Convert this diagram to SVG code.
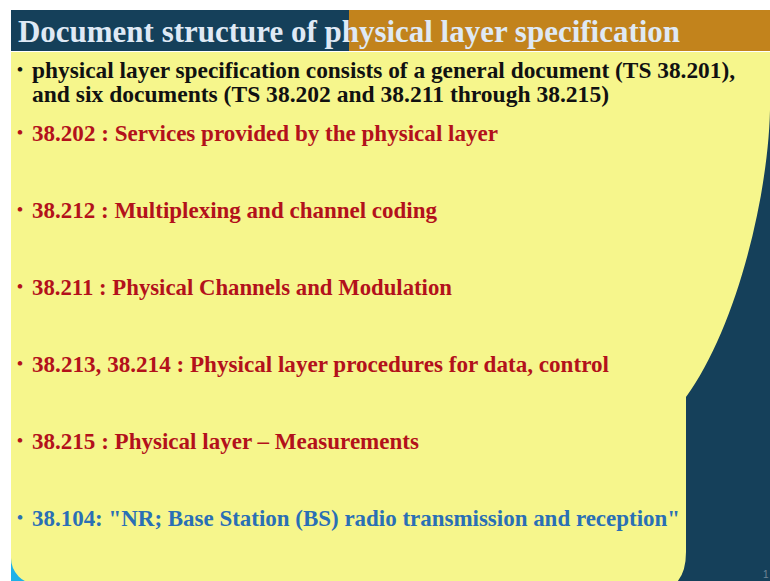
<svg xmlns="http://www.w3.org/2000/svg" width="770" height="581" viewBox="0 0 770 581">
<style>
.t{font-family:"Liberation Serif","DejaVu Serif",serif;font-weight:bold}
.title{font-size:32px;fill:#dfe9f5}
.blk{font-size:24px;fill:#111111}
.red{font-size:24px;fill:#b3111b}
.blu{font-size:24px;fill:#2a6fb5}
.b{font-size:17px}
</style>
<rect x="0" y="0" width="770" height="581" fill="#ffffff"/>
<rect x="600" y="52" width="170" height="529" fill="#15405a"/>
<rect x="11" y="530" width="60" height="51" fill="#1db1e8"/>
<path d="M11,52 L770,52 L770,110 C768,200 735,330 686,397 L686,552 Q686,575 674,585 L40,585 L37,584 A26,26 0 0 1 11,558 Z" fill="#f6f68c"/>
<g id="title">
<rect x="11" y="10" width="338" height="41" fill="#15405a"/>
<rect x="349" y="10" width="421" height="41" fill="#c2831c"/>
<text class="t title" x="18" y="42" textLength="662" lengthAdjust="spacingAndGlyphs">Document structure of physical layer specification</text>
</g>
<g id="intro">
<text class="t blk b" x="17" y="75">•</text>
<text class="t blk" x="32" y="78" textLength="703" lengthAdjust="spacingAndGlyphs">physical layer specification consists of a general document (TS 38.201),</text>
<text class="t blk" x="32" y="102" textLength="577" lengthAdjust="spacingAndGlyphs">and six documents (TS 38.202 and 38.211 through 38.215)</text>
</g>
<g id="item-38202">
<text class="t red b" x="17" y="138">•</text>
<text class="t red" x="32" y="141" textLength="466" lengthAdjust="spacingAndGlyphs">38.202 : Services provided by the physical layer</text>
</g>
<g id="item-38212">
<text class="t red b" x="17" y="215">•</text>
<text class="t red" x="32" y="218" textLength="405" lengthAdjust="spacingAndGlyphs">38.212 : Multiplexing and channel coding</text>
</g>
<g id="item-38211">
<text class="t red b" x="17" y="292">•</text>
<text class="t red" x="32" y="295" textLength="420" lengthAdjust="spacingAndGlyphs">38.211 : Physical Channels and Modulation</text>
</g>
<g id="item-38213">
<text class="t red b" x="17" y="369">•</text>
<text class="t red" x="32" y="372" textLength="577" lengthAdjust="spacingAndGlyphs">38.213, 38.214 : Physical layer procedures for data, control</text>
</g>
<g id="item-38215">
<text class="t red b" x="17" y="446">•</text>
<text class="t red" x="32" y="449" textLength="387" lengthAdjust="spacingAndGlyphs">38.215 : Physical layer – Measurements</text>
</g>
<g id="item-38104">
<text class="t blu b" x="17" y="523">•</text>
<text class="t blu" x="32" y="526" textLength="648" lengthAdjust="spacingAndGlyphs">38.104: "NR; Base Station (BS) radio transmission and reception"</text>
</g>
<text x="763" y="578" font-family="Liberation Sans,sans-serif" font-size="10" fill="#6f8696">1</text>
</svg>
